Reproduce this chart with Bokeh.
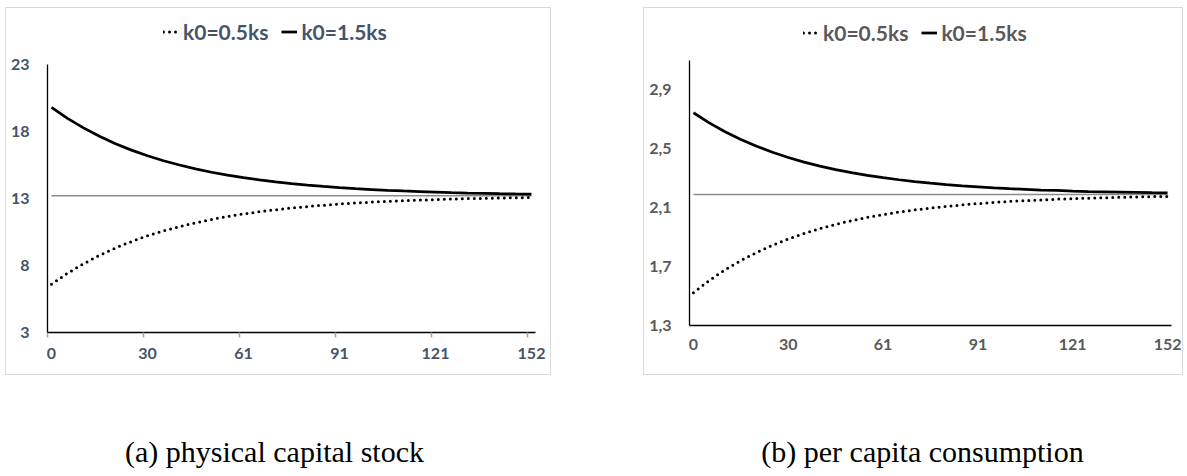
from bokeh.plotting import figure
from bokeh.models import FixedTicker, Legend, LegendItem, Spacer
from bokeh.layouts import row, column
from bokeh.embed import file_html
from bokeh.resources import INLINE
from bokeh.core.properties import value

# ---- data (category index of 61 periods, read every 2nd category) ----
idx = list(range(0, 61, 2))
x_tick_pos = [0, 12, 24, 36, 48, 60]
x_tick_labels = ["0", "30", "61", "91", "121", "152"]
x_minor_pos = [-0.5, 11.5, 23.5, 35.5, 47.5, 59.5]

k_low = [6.60, 7.42, 8.13, 8.76, 9.31, 9.79, 10.21, 10.58, 10.90, 11.19, 11.44,
         11.66, 11.85, 12.01, 12.16, 12.29, 12.40, 12.50, 12.59, 12.67, 12.73,
         12.79, 12.84, 12.88, 12.92, 12.96, 12.99, 13.01, 13.04, 13.06, 13.07]
k_high = [19.80, 18.98, 18.27, 17.64, 17.09, 16.61, 16.19, 15.82, 15.50, 15.21, 14.96,
          14.74, 14.55, 14.39, 14.24, 14.11, 14.00, 13.90, 13.81, 13.73, 13.67,
          13.61, 13.56, 13.52, 13.48, 13.44, 13.41, 13.39, 13.36, 13.34, 13.33]
k_star = [13.2] * len(idx)

c_low = [1.523, 1.606, 1.678, 1.741, 1.796, 1.845, 1.888, 1.925, 1.958, 1.987, 2.012,
         2.034, 2.053, 2.070, 2.085, 2.098, 2.109, 2.119, 2.128, 2.136, 2.143,
         2.148, 2.153, 2.158, 2.162, 2.165, 2.168, 2.171, 2.173, 2.175, 2.177]
c_high = [2.745, 2.676, 2.616, 2.564, 2.517, 2.477, 2.441, 2.410, 2.383, 2.359, 2.338,
          2.320, 2.304, 2.290, 2.278, 2.267, 2.257, 2.249, 2.242, 2.235, 2.229,
          2.225, 2.220, 2.217, 2.213, 2.210, 2.208, 2.206, 2.204, 2.202, 2.201]
c_star = [2.19] * len(idx)

k_yticks = [3, 8, 13, 18, 23]
k_ytick_labels = ["3", "8", "13", "18", "23"]
c_yticks = [1.3, 1.7, 2.1, 2.5, 2.9]
c_ytick_labels = ["1,3", "1,7", "2,1", "2,5", "2,9"]
legend_labels = ["k0=0.5ks", "k0=1.5ks"]
captions = ["(a) physical capital stock", "(b) per capita consumption"]


def panel(width, height, mbl, mbr, mbt, mbb, y_bot, y_top, plot_h, extra_px,
          low, high, star, yticks, ylabels, txt_color, show_xticks, xstandoff,
          legend_xy):
    # frame extends above the y axis so that the legend sits inside it
    y_end = y_top + extra_px * (y_top - y_bot) / plot_h
    p = figure(width=width, height=height, output_backend="svg", toolbar_location=None,
               x_range=(-0.5, 60.5), y_range=(y_bot, y_end),
               min_border_left=mbl, min_border_right=mbr,
               min_border_top=mbt, min_border_bottom=mbb,
               outline_line_color=None, background_fill_color="white",
               border_fill_color="white",
               styles={"border": "1px solid #D9D9D9"})
    p.grid.visible = False
    p.line(idx, star, line_color="#8C8C8C", line_width=1.5)
    r_low = p.line(idx, low, line_color="black", line_width=3,
                   line_dash="0 6", line_cap="round")
    r_high = p.line(idx, high, line_color="black", line_width=2.75)

    xa = p.xaxis[0]
    if show_xticks:
        xa.ticker = FixedTicker(ticks=x_tick_pos, minor_ticks=x_minor_pos)
        xa.minor_tick_out = 5
        xa.minor_tick_in = 0
        xa.minor_tick_line_color = "#A6A6A6"
        xa.minor_tick_line_width = 1.5
    else:
        xa.ticker = FixedTicker(ticks=x_tick_pos)
        xa.minor_tick_line_color = None
    xa.major_label_overrides = {t: l for t, l in zip(x_tick_pos, x_tick_labels)}
    xa.major_tick_line_color = None
    xa.major_tick_out = 0
    xa.major_tick_in = 0
    xa.major_label_standoff = xstandoff
    xa.axis_line_color = "black"
    xa.axis_line_width = 1.3

    ya = p.yaxis[0]
    ya.ticker = FixedTicker(ticks=yticks)
    ya.bounds = (y_bot, y_top)
    ya.major_label_overrides = {t: l for t, l in zip(yticks, ylabels)}
    ya.major_tick_line_color = None
    ya.minor_tick_line_color = None
    ya.major_tick_out = 0
    ya.major_tick_in = 0
    ya.major_label_standoff = 18
    ya.axis_line_color = "black"
    ya.axis_line_width = 1.3

    for ax in (xa, ya):
        ax.major_label_text_font = "Lato"
        ax.major_label_text_font_style = "bold"
        ax.major_label_text_font_size = "16px"
        ax.major_label_text_color = txt_color

    leg = Legend(items=[LegendItem(label=legend_labels[0], renderers=[r_low]),
                        LegendItem(label=legend_labels[1], renderers=[r_high])],
                 orientation="horizontal", location=legend_xy,
                 glyph_width=16, glyph_height=25, label_height=25,
                 label_standoff=4, spacing=13, padding=0, margin=0,
                 border_line_color=None, background_fill_alpha=0,
                 label_text_font="Lato", label_text_font_style="bold",
                 label_text_font_size="21px", label_text_color=txt_color)
    p.add_layout(leg)
    return p


left = panel(546, 368, 41, 17, 6, 44, 3, 23, 268, 50, k_low, k_high, k_star,
             k_yticks, k_ytick_labels, "#44546A", True, 10, (116, 288))
right = panel(540, 368, 45, 13, 6, 51, 1.3, 3.1, 265, 46, c_low, c_high, c_star,
              c_yticks, c_ytick_labels, "#595959", False, 13, (114, 280))

cap = figure(width=1187, height=99, output_backend="svg", toolbar_location=None,
             x_range=(0, 1187), y_range=(0, 99), x_axis_location=None,
             y_axis_location=None, min_border=0, outline_line_color=None)
cap.grid.visible = False
cap.text(x=[274, 922], y=[23, 23], text=captions,
         text_font=value("Liberation Serif"), text_font_size="30px",
         text_align="center", text_baseline="middle", text_color="black")

# each panel in its own column so that the row does not align their frames
layout = column(Spacer(height=7),
                row(Spacer(width=5), column(left), Spacer(width=92), column(right)),
                cap)
open("out.html", "w").write(file_html(layout, INLINE))
